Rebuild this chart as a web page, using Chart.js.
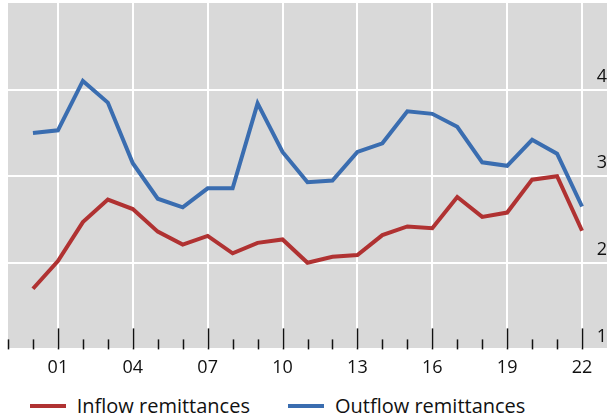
<!DOCTYPE html>
<html><head><meta charset="utf-8">
<script src="https://cdn.jsdelivr.net/npm/chart.js@4/dist/chart.umd.min.js"></script>
<style>
html,body{margin:0;padding:0;background:#fff}
#page{width:607px;height:419px;position:relative}
#wrap{position:absolute;left:0;top:0;width:607px;height:391px}
#legend{position:absolute;left:0;top:392px;width:555px;display:flex;justify-content:center;gap:38px;font-family:'Open Sans','Noto Sans',sans-serif;font-size:20px;color:#111;line-height:28px}
#legend .item{display:flex;align-items:center}
#legend .sw{display:inline-block;width:36px;height:4px;margin-right:11px}
</style>
</head><body><div id="page"><div id="wrap"><canvas id="c"></canvas></div><div id="legend"></div></div>
<script>
const years = [2000,2001,2002,2003,2004,2005,2006,2007,2008,2009,2010,2011,2012,2013,2014,2015,2016,2017,2018,2019,2020,2021,2022];
const inflow = [1.70,2.02,2.47,2.73,2.62,2.36,2.21,2.31,2.11,2.23,2.27,2.00,2.07,2.09,2.32,2.42,2.40,2.76,2.53,2.58,2.96,3.00,2.37];
const outflow = [3.50,3.53,4.10,3.85,3.15,2.74,2.64,2.86,2.86,3.84,3.28,2.93,2.95,3.28,3.38,3.75,3.72,3.57,3.16,3.12,3.42,3.26,2.65];
const seriesNames = ['Inflow remittances','Outflow remittances'];
const seriesColors = ['#b03232','#3a6db0'];
const xTickYears = [2001,2004,2007,2010,2013,2016,2019,2022];
const minorTickYears = [1999,2000,2001,2002,2003,2004,2005,2006,2007,2008,2009,2010,2011,2012,2013,2014,2015,2016,2017,2018,2019,2020,2021,2022];
const yTicks = [1,2,3,4];
const xRange = [1999,2023];
const yRange = [1,5];

const FONT = "'Open Sans', 'Noto Sans', sans-serif";

const bgPlugin = {
  id:'bg',
  beforeDraw(chart){
    const {ctx, chartArea:a} = chart;
    ctx.save(); ctx.fillStyle='#d9d9d9';
    ctx.fillRect(a.left,a.top,a.right-a.left,a.bottom-a.top);
    ctx.restore();
  }
};
const tickPlugin = {
  id:'innerTicks',
  beforeDatasetsDraw(chart){
    const {ctx, chartArea:a, scales} = chart;
    ctx.save(); ctx.strokeStyle='#111'; ctx.lineWidth=1.5;
    minorTickYears.forEach(y=>{
      const x = Math.round(scales.x.getPixelForValue(y))+0.5;
      const major = xTickYears.includes(y);
      ctx.beginPath(); ctx.moveTo(x,a.bottom); ctx.lineTo(x,a.bottom-(major?21:10)); ctx.stroke();
    });
    ctx.restore();
  }
};
const htmlLegend = {
  id:'htmlLegend',
  afterUpdate(chart){
    const el = document.getElementById('legend');
    el.innerHTML='';
    chart.data.datasets.forEach(ds=>{
      const it=document.createElement('span'); it.className='item';
      const sw=document.createElement('span'); sw.className='sw'; sw.style.background=ds.borderColor;
      const tx=document.createElement('span'); tx.textContent=ds.label;
      it.appendChild(sw); it.appendChild(tx); el.appendChild(it);
    });
  }
};

new Chart(document.getElementById('c'), {
  type:'line',
  data:{
    datasets:[
      {label:seriesNames[0], data:years.map((y,i)=>({x:y,y:inflow[i]})), borderColor:seriesColors[0], backgroundColor:seriesColors[0], borderWidth:4, pointRadius:0, tension:0},
      {label:seriesNames[1], data:years.map((y,i)=>({x:y,y:outflow[i]})), borderColor:seriesColors[1], backgroundColor:seriesColors[1], borderWidth:4, pointRadius:0, tension:0}
    ]
  },
  options:{
    responsive:true, maintainAspectRatio:false, animation:false,
    layout:{padding:{left:8,top:3,right:0,bottom:4}},
    plugins:{
      legend:{display:false},
      tooltip:{enabled:false}
    },
    scales:{
      x:{type:'linear', min:xRange[0], max:xRange[1],
        afterBuildTicks(s){ s.ticks = xTickYears.map(v=>({value:v})); },
        grid:{color:'#ffffff', lineWidth:2, drawTicks:false},
        border:{display:false},
        ticks:{padding:8, color:'#111', font:{family:FONT,size:18}, maxRotation:0, autoSkip:false,
          callback:v=>String(v%100).padStart(2,'0')}
      },
      y:{position:'right', min:yRange[0], max:yRange[1],
        afterBuildTicks(s){ s.ticks = yTicks.map(v=>({value:v})); },
        grid:{color:'#ffffff', lineWidth:2, drawTicks:false},
        border:{display:false},
        ticks:{mirror:true, padding:0, labelOffset:-13, color:'#111', font:{family:FONT,size:18,lineHeight:0.3}}
      }
    }
  },
  plugins:[bgPlugin, tickPlugin, htmlLegend]
});
</script>
</body></html>
